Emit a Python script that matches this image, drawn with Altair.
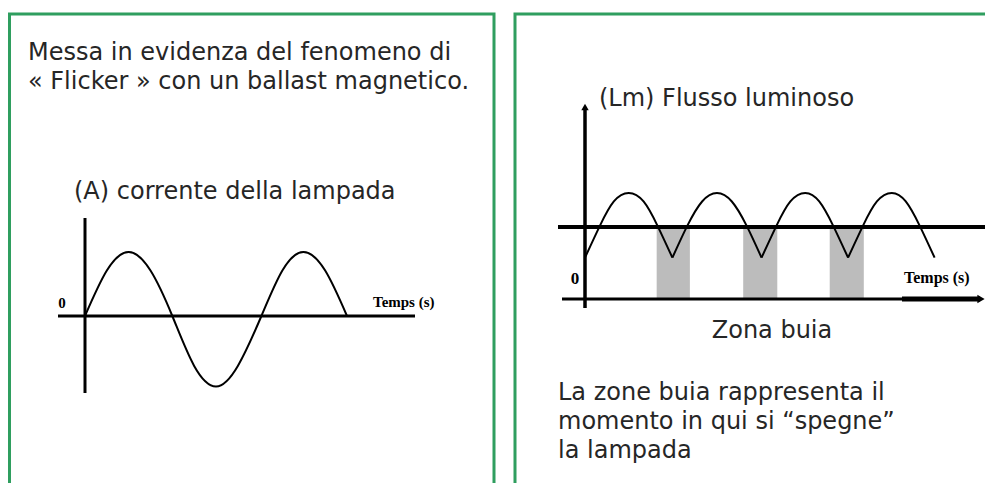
import altair as alt
import pandas as pd

# ---------------- data ----------------
# Left diagram: lamp current (A) against time (ms)
cur_t = [0, 2.5, 5, 7.5, 10, 12.5, 15, 17.5, 20.2, 22.6, 25, 27.5, 30]
cur_a = [0, 0.71, 1.0, 0.71, 0, -0.78, -1.1, -0.78, 0, 0.71, 1.0, 0.71, 0]

# Right diagram: luminous flux (lm) against time, one arch per half-cycle
flux_arch = [1] * 7 + [2] * 7 + [3] * 7 + [4] * 7
flux_t = [0, 1.7, 3.3, 5.0, 6.7, 8.3, 10.0,
          10.0, 11.7, 13.4, 15.1, 16.8, 18.5, 20.2,
          20.2, 21.9, 23.5, 25.2, 26.8, 28.4, 30.1,
          30.1, 31.8, 33.4, 35.1, 36.7, 38.3, 40.0]
flux_v = [39, 69, 92, 100, 92, 69, 39,
          39, 69, 92, 100, 92, 69, 39,
          39, 69, 92, 100, 92, 69, 39,
          39, 69, 92, 100, 92, 69, 39]
threshold = [68]
dark_start = [8.2, 18.1, 28.0]
dark_end = [12.0, 22.0, 31.9]
dark_top = [68, 68, 68]

# Texts
title_lines = ["Messa in evidenza del fenomeno di",
               "« Flicker » con un ballast magnetico."]
current_label = "(A) corrente della lampada"
flux_label = "(Lm) Flusso luminoso"
dark_label = "Zona buia"
note_lines = ["La zone buia rappresenta il",
              "momento in qui si “spegne”",
              "la lampada"]
time_label = "Temps (s)"
zero_label = "0"

# ---------------- styling ----------------
GREEN = "#2f9e5f"
TEXT = "#262626"
SANS = "DejaVu Sans"
SERIF = "Liberation Serif"
W, H = 977, 475


def sc(domain, rng):
    return alt.Scale(domain=domain, range=rng, nice=False, zero=False)


xL = dict(domain=[0, 30], rng=[77, 339])
yL = dict(domain=[-1.1, 1.0], rng=[378.4, 244])
xR = dict(domain=[0, 40], rng=[577, 926.6])
yR = dict(domain=[0, 100], rng=[291, 185])

one = pd.DataFrame({"p": [0]})


def label(txt, x, y, size, font=SANS, weight="normal", align="left", color=TEXT):
    return alt.Chart(pd.DataFrame({"label": [txt]})).mark_text(
        align=align, baseline="alphabetic", font=font, fontSize=size,
        fontWeight=weight, color=color
    ).encode(text="label:N", x=alt.value(x), y=alt.value(y))


layers = []

# panel borders
layers.append(alt.Chart(one).mark_rect(fill="transparent", stroke=GREEN, strokeWidth=3).encode(
    x=alt.value(1.5), x2=alt.value(486), y=alt.value(6), y2=alt.value(520)))
layers.append(alt.Chart(one).mark_rect(fill="transparent", stroke=GREEN, strokeWidth=3).encode(
    x=alt.value(507), x2=alt.value(1100), y=alt.value(6), y2=alt.value(520)))

# ---------- left diagram ----------
cur_df = pd.DataFrame({"t": cur_t, "a": cur_a})
zero_df = pd.DataFrame({"t": [0], "a": [0]})

layers.append(alt.Chart(zero_df).mark_rule(color="black", strokeWidth=3).encode(
    x=alt.X("t:Q", scale=sc(xL["domain"], xL["rng"]), axis=None),
    y=alt.value(210), y2=alt.value(385)))
layers.append(alt.Chart(zero_df).mark_rule(color="black", strokeWidth=3).encode(
    y=alt.Y("a:Q", scale=sc(yL["domain"], yL["rng"]), axis=None),
    x=alt.value(50), x2=alt.value(407)))
layers.append(alt.Chart(cur_df).mark_line(color="black", strokeWidth=2, interpolate="natural").encode(
    x=alt.X("t:Q", scale=sc(xL["domain"], xL["rng"]), axis=None),
    y=alt.Y("a:Q", scale=sc(yL["domain"], yL["rng"]), axis=None)))

# ---------- right diagram ----------
dark_df = pd.DataFrame({"s": dark_start, "e": dark_end, "top": dark_top})
flux_df = pd.DataFrame({"arch": flux_arch, "t": flux_t, "f": flux_v})
thr_df = pd.DataFrame({"f": threshold})
rz_df = pd.DataFrame({"t": [0], "f": [0]})

layers.append(alt.Chart(dark_df).mark_rect(color="#bcbcbc").encode(
    x=alt.X("s:Q", scale=sc(xR["domain"], xR["rng"]), axis=None),
    x2="e:Q",
    y=alt.Y("top:Q", scale=sc(yR["domain"], yR["rng"]), axis=None),
    y2=alt.datum(0)))
layers.append(alt.Chart(rz_df).mark_rule(color="black", strokeWidth=3.5).encode(
    x=alt.X("t:Q", scale=sc(xR["domain"], xR["rng"]), axis=None),
    y=alt.value(99), y2=alt.value(300)))
layers.append(alt.Chart(rz_df).mark_rule(color="black", strokeWidth=3).encode(
    y=alt.Y("f:Q", scale=sc(yR["domain"], yR["rng"]), axis=None),
    x=alt.value(554), x2=alt.value(972)))
layers.append(alt.Chart(rz_df).mark_rule(color="black", strokeWidth=5).encode(
    y=alt.Y("f:Q", scale=sc(yR["domain"], yR["rng"]), axis=None),
    x=alt.value(894), x2=alt.value(972)))
layers.append(alt.Chart(rz_df).mark_point(shape="triangle-right", filled=True, color="black",
                                          size=70, opacity=1).encode(
    y=alt.Y("f:Q", scale=sc(yR["domain"], yR["rng"]), axis=None),
    x=alt.value(973)))
layers.append(alt.Chart(rz_df).mark_point(shape="triangle-up", filled=True, color="black",
                                          size=55, opacity=1).encode(
    x=alt.X("t:Q", scale=sc(xR["domain"], xR["rng"]), axis=None),
    y=alt.value(99)))
layers.append(alt.Chart(thr_df).mark_rule(color="black", strokeWidth=4).encode(
    y=alt.Y("f:Q", scale=sc(yR["domain"], yR["rng"]), axis=None),
    x=alt.value(550), x2=alt.value(979)))
layers.append(alt.Chart(flux_df).mark_line(color="black", strokeWidth=2, interpolate="natural").encode(
    x=alt.X("t:Q", scale=sc(xR["domain"], xR["rng"]), axis=None),
    y=alt.Y("f:Q", scale=sc(yR["domain"], yR["rng"]), axis=None),
    detail="arch:N"))

# ---------- texts ----------
layers.append(label(title_lines[0], 20, 52, 24))
layers.append(label(title_lines[1], 20, 81, 24))
layers.append(label(current_label, 66, 191, 24))
layers.append(label(flux_label, 591, 98, 24))
layers.append(label(dark_label, 764, 330, 24, align="center"))
layers.append(label(note_lines[0], 550, 392, 24))
layers.append(label(note_lines[1], 550, 421, 24))
layers.append(label(note_lines[2], 550, 450, 24))
layers.append(label(zero_label, 54, 300, 15, font=SERIF, weight="bold", align="center", color="black"))
layers.append(label(time_label, 365, 299, 15, font=SERIF, weight="bold", color="black"))
layers.append(label(zero_label, 567, 276, 17, font=SERIF, weight="bold", align="center", color="black"))
layers.append(label(time_label, 896, 275, 16, font=SERIF, weight="bold", color="black"))

chart = alt.layer(*layers).resolve_scale(x="independent", y="independent").properties(
    width=W, height=H, padding=0, autosize=alt.AutoSizeParams(type="none"),
    background="white"
).configure_view(stroke=None)

chart.save("out.html", embed_options={"renderer": "svg", "actions": False})
